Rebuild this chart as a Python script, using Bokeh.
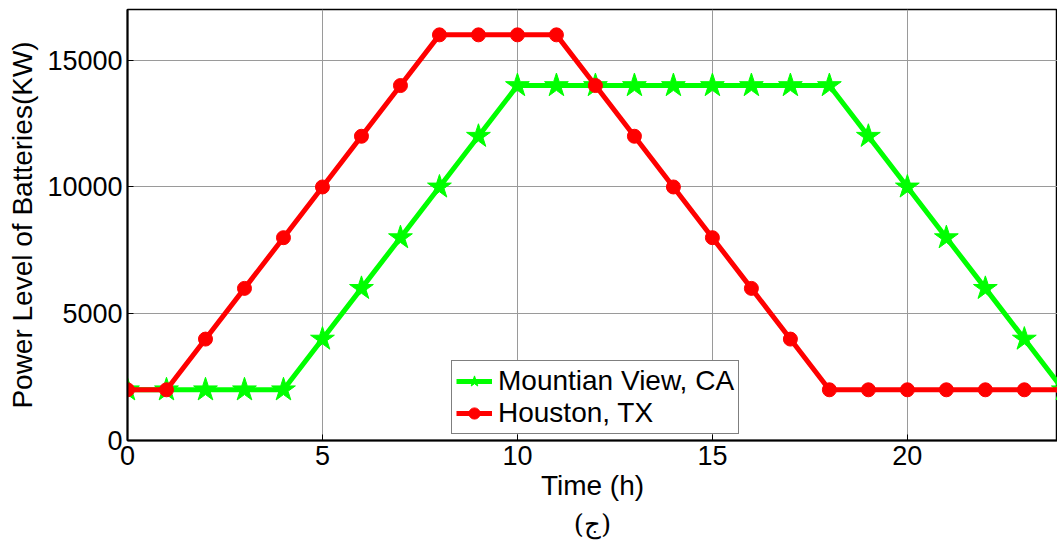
from bokeh.plotting import figure
from bokeh.models import Range1d, Title, FixedTicker
from bokeh.embed import file_html
from bokeh.resources import INLINE

# Hourly battery power level (kW) for two sites
hours = list(range(0, 25))
mountain_view = [2000, 2000, 2000, 2000, 2000, 4000, 6000, 8000, 10000, 12000,
                 14000, 14000, 14000, 14000, 14000, 14000, 14000, 14000, 14000,
                 12000, 10000, 8000, 6000, 4000, 2000]
houston = [2000, 2000, 4000, 6000, 8000, 10000, 12000, 14000, 16000, 16000,
           16000, 16000, 14000, 12000, 10000, 8000, 6000, 4000, 2000, 2000,
           2000, 2000, 2000, 2000, 2000]

x_ticks = [0, 5, 10, 15, 20]
y_ticks = [0, 5000, 10000, 15000]

FONT = "Liberation Sans"

p = figure(width=1057, height=545, output_backend="svg", toolbar_location=None,
           x_range=Range1d(0, 23.85), y_range=Range1d(0, 17000),
           min_border_left=127, min_border_right=0, min_border_top=9,
           min_border_bottom=105)
p.background_fill_color = "white"
p.border_fill_color = "white"
p.outline_line_color = "black"
p.outline_line_width = 1.5

# grid
p.xgrid.ticker = FixedTicker(ticks=x_ticks)
p.ygrid.ticker = FixedTicker(ticks=y_ticks)
for g in (p.xgrid, p.ygrid):
    g.grid_line_color = "#9a9a9a"
    g.grid_line_width = 1

# axes
for ax in (p.xaxis, p.yaxis):
    ax.axis_line_color = "black"
    ax.axis_line_width = 2
    ax.major_tick_in = 6
    ax.major_tick_out = 0
    ax.minor_tick_line_color = None
    ax.major_tick_line_color = "black"
    ax.major_label_text_font = FONT
    ax.major_label_text_font_size = "27px"
    ax.major_label_text_color = "black"
    ax.axis_label_text_font = FONT
    ax.axis_label_text_font_size = "28px"
    ax.axis_label_text_font_style = "normal"
    ax.axis_label_text_color = "black"

p.xaxis.ticker = FixedTicker(ticks=x_ticks)
p.yaxis.ticker = FixedTicker(ticks=y_ticks)
p.xaxis.axis_label = "Time (h)"
p.yaxis.axis_label = "Power Level of Batteries(KW)"
p.xaxis.major_label_standoff = 5
p.xaxis.axis_label_standoff = 2
p.yaxis.major_label_standoff = 5
p.yaxis.axis_label_standoff = 6

# series
p.line(hours, mountain_view, line_color="#00ff00", line_width=5, legend_label="Mountian View, CA")
p.scatter(hours, mountain_view, marker="star", size=25, fill_color="#00ff00",
          line_color="#00ff00", legend_label="Mountian View, CA")
p.line(hours, houston, line_color="#ff0000", line_width=5, legend_label="Houston, TX")
p.scatter(hours, houston, marker="circle", size=14, fill_color="#ff0000",
          line_color="#ff0000", legend_label="Houston, TX")

leg = p.legend[0]
leg.location = (324, 6)
leg.label_text_font = FONT
leg.label_text_font_size = "28px"
leg.label_text_color = "black"
leg.border_line_color = "black"
leg.border_line_width = 1
leg.background_fill_color = "white"
leg.background_fill_alpha = 1
leg.glyph_width = 36
leg.glyph_height = 28
leg.label_standoff = 6
leg.spacing = 0
leg.padding = 4
leg.margin = 0
leg.label_height = 28

cap = Title(text="(ج)", align="center", text_font="DejaVu Serif",
            text_font_size="26px", text_font_style="normal", text_color="black",
            standoff=6)
p.add_layout(cap, "below")

open("out.html", "w").write(file_html(p, INLINE))
